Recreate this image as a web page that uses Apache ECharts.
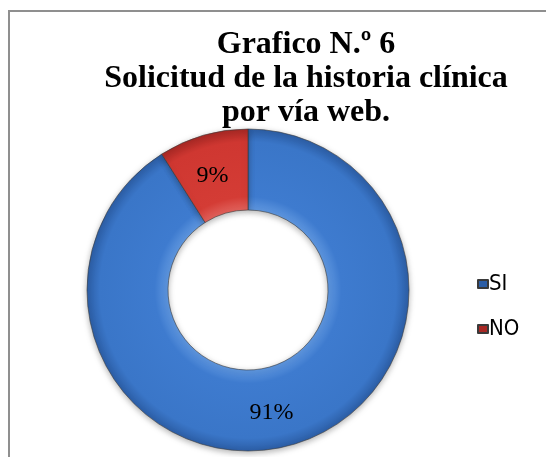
<!DOCTYPE html>
<html>
<head>
<meta charset="utf-8">
<script src="https://cdn.jsdelivr.net/npm/echarts@6/dist/echarts.min.js"></script>
<style>
  html, body { margin: 0; padding: 0; background: #fff; }
  #chart { width: 546px; height: 457px; }
</style>
</head>
<body>
<div id="chart"></div>
<script>
var titleLines = ["Grafico N.º 6", "Solicitud de la historia clínica", "por vía web."];
var categories = ["SI", "NO"];
var values = [91, 9];
var colors = [
  ["#5d95de", "#3e7bcf", "#3a76c8", "#2c5ea6"],
  ["#e0605a", "#d43c35", "#cf3731", "#a82824"]
];

var chart = echarts.init(document.getElementById("chart"));

function ringColor(c) {
  return {
    type: "radial",
    x: 248, y: 290, r: 161,
    global: true,
    colorStops: [
      { offset: 0.5, color: c[0] },
      { offset: 0.58, color: c[1] },
      { offset: 0.92, color: c[2] },
      { offset: 1, color: c[3] }
    ]
  };
}

var labelOffsets = [[-11, 4], [-1, 4]];

var option = {
  animation: false,
  title: {
    text: titleLines.join("\n"),
    left: 301,
    textAlign: "center",
    top: 23,
    textStyle: {
      fontFamily: "Liberation Serif",
      fontWeight: "bold",
      fontSize: 32,
      lineHeight: 34,
      color: "#000"
    }
  },
  legend: {
    orient: "vertical",
    left: 472,
    top: 268,
    itemWidth: 10,
    itemHeight: 8,
    itemGap: 23,
    icon: "rect",
    data: categories,
    textStyle: {
      fontFamily: "'Liberation Sans Narrow', 'DejaVu Sans Condensed', 'Liberation Sans', sans-serif",
      fontSize: 22,
      color: "#000",
      padding: [0, 0, 0, -4]
    }
  },
  graphic: [
    {
      type: "polyline",
      shape: { points: [[9, 457], [9, 11], [546, 11]] },
      style: { stroke: "#8f8f8f", lineWidth: 2, fill: null }
    }
  ],
  series: [
    {
      type: "pie",
      center: [248, 290],
      radius: [80, 161],
      startAngle: 90,
      clockwise: true,
      label: {
        show: true,
        position: "inside",
        formatter: "{d}%",
        fontFamily: "Liberation Serif",
        fontSize: 24,
        color: "#000"
      },
      labelLine: { show: false },
      emphasis: { disabled: true },
      itemStyle: {
        borderColor: "#3a3a3a",
        borderWidth: 0.6,
        shadowBlur: 6,
        shadowOffsetY: 2,
        shadowColor: "rgba(0,0,0,0.3)"
      },
      data: categories.map(function (name, i) {
        return {
          name: name,
          value: values[i],
          itemStyle: { color: ringColor(colors[i]) },
          label: { offset: labelOffsets[i] }
        };
      })
    }
  ]
};

chart.setOption(option);
</script>
</body>
</html>
